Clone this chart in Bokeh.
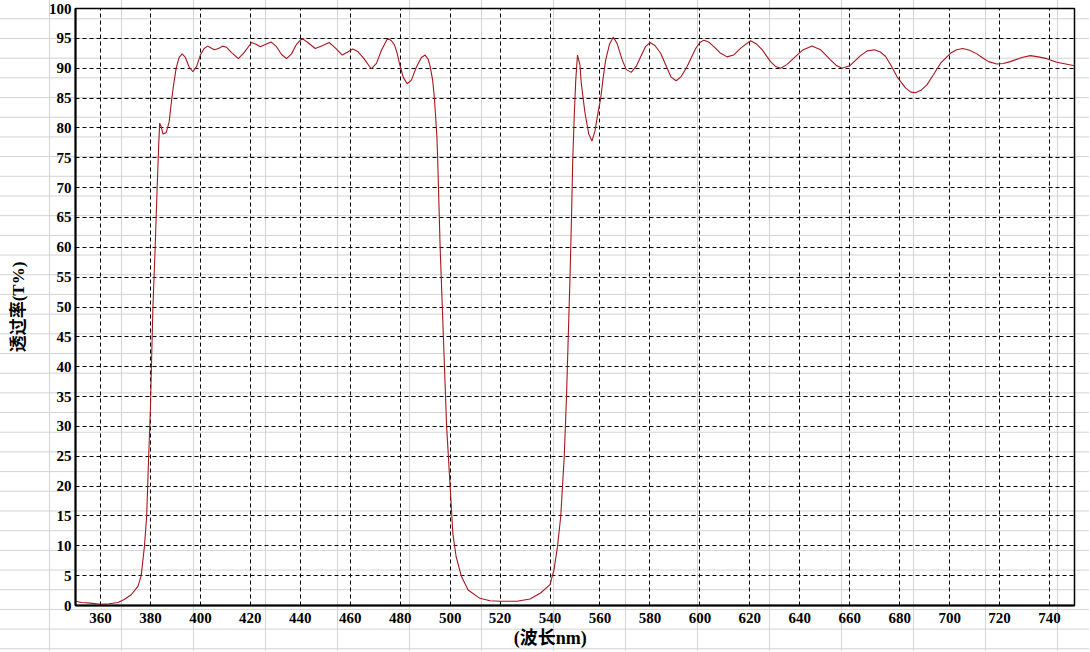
from bokeh.plotting import figure
from bokeh.models import Range1d, FixedTicker
from bokeh.embed import file_html
from bokeh.resources import INLINE

# wavelength (nm) and transmittance (%)
wavelength = [
    350.0, 352.5, 356.0, 360.0, 363.5, 367.0, 369.5, 372.3, 375.0, 376.3,
    377.6, 378.5, 379.3, 380.0, 380.4, 381.0, 381.9, 382.7, 383.3, 383.7,
    384.3, 385.0, 386.3, 387.5, 388.3, 389.2, 390.3, 391.5, 392.7, 394.0,
    395.5, 397.0, 398.5, 400.0, 401.5, 402.9, 404.3, 405.6, 407.3, 408.9,
    410.5, 412.5, 415.2, 417.5, 420.5, 422.3, 424.0, 426.2, 428.3, 430.5,
    432.5, 434.5, 436.5, 438.5, 440.7, 443.0, 446.0, 449.0, 451.6, 454.0,
    456.8, 459.0, 461.0, 463.0, 465.5, 468.4, 470.5, 472.5, 475.0, 476.5,
    477.7, 478.8, 479.7, 481.2, 482.8, 484.5, 486.5, 488.5, 490.0, 491.2,
    492.0, 493.0, 493.7, 494.7, 495.0, 496.0, 497.3, 498.6, 500.0, 501.1,
    502.4, 504.5, 507.2, 511.9, 516.0, 520.0, 526.8, 532.0, 536.2, 540.0,
    541.6, 543.0, 544.3, 545.7, 546.6, 547.3, 548.0, 548.6, 549.1, 549.7,
    550.3, 551.0, 552.0, 552.5, 554.0, 555.5, 556.8, 558.0, 559.0, 560.3,
    561.3, 562.3, 563.8, 565.3, 566.8, 568.9, 570.5, 572.5, 574.5, 576.3,
    578.2, 580.0, 582.0, 584.3, 586.9, 588.5, 590.5, 592.5, 594.9, 596.6,
    598.3, 600.0, 601.6, 603.5, 605.6, 608.0, 610.9, 613.5, 616.5, 620.3,
    622.5, 624.9, 628.3, 630.3, 632.3, 634.8, 637.6, 641.0, 644.9, 648.3,
    652.3, 654.5, 656.9, 660.0, 664.3, 667.0, 669.9, 672.3, 674.3, 676.5,
    678.9, 682.3, 684.5, 686.3, 688.5, 690.9, 693.5, 696.3, 700.3, 702.8,
    705.3, 708.0, 710.9, 713.0, 715.6, 718.9, 721.5, 724.3, 728.9, 732.3,
    735.5, 738.9, 742.9, 746.5, 750.0,
]
transmittance = [
    0.7, 0.5, 0.4, 0.2, 0.3, 0.5, 1.0, 1.8, 3.2, 5.0,
    9.9, 15.0, 25.0, 33.0, 40.0, 50.0, 60.0, 70.0, 77.0, 80.8,
    80.2, 79.0, 79.2, 81.0, 84.0, 87.0, 90.0, 91.8, 92.4, 91.8,
    90.2, 89.4, 90.3, 92.2, 93.3, 93.7, 93.4, 93.1, 93.3, 93.7,
    93.5, 92.6, 91.6, 92.6, 94.3, 94.0, 93.6, 94.0, 94.4, 93.6,
    92.3, 91.6, 92.4, 94.0, 95.0, 94.3, 93.3, 93.8, 94.3, 93.4,
    92.2, 92.7, 93.2, 92.8, 91.6, 89.9, 90.8, 93.0, 95.0, 94.6,
    93.9, 92.5, 90.8, 88.5, 87.4, 88.0, 90.2, 91.8, 92.2, 91.5,
    90.3, 88.0, 85.0, 78.6, 75.0, 60.0, 45.0, 30.0, 20.0, 12.0,
    8.2, 4.9, 2.6, 1.2, 0.8, 0.7, 0.7, 1.1, 2.1, 3.5,
    6.0, 9.9, 15.0, 25.0, 35.0, 45.0, 55.0, 65.0, 74.7, 82.0,
    88.0, 92.2, 90.5, 87.5, 82.5, 79.0, 77.8, 79.5, 82.0, 85.0,
    88.5, 91.4, 94.0, 95.2, 94.2, 91.4, 89.8, 89.3, 90.3, 91.9,
    93.6, 94.3, 93.8, 92.5, 90.0, 88.5, 87.9, 88.6, 90.3, 91.8,
    93.3, 94.3, 94.7, 94.4, 93.6, 92.6, 91.9, 92.2, 93.4, 94.6,
    94.1, 93.1, 91.1, 90.3, 90.0, 90.6, 91.7, 93.0, 93.7, 93.1,
    91.4, 90.5, 90.0, 90.4, 92.1, 92.9, 93.1, 92.7, 92.0, 90.5,
    88.6, 86.7, 86.0, 85.9, 86.3, 87.2, 88.9, 90.8, 92.5, 93.1,
    93.3, 93.0, 92.4, 91.8, 91.1, 90.7, 90.8, 91.1, 91.8, 92.1,
    91.9, 91.6, 91.0, 90.7, 90.4,
]
x_ticks = [360, 380, 400, 420, 440, 460, 480, 500, 520, 540, 560, 580, 600,
           620, 640, 660, 680, 700, 720, 740]
y_ticks = [0, 5, 10, 15, 20, 25, 30, 35, 40, 45, 50, 55, 60, 65, 70, 75, 80,
           85, 90, 95, 100]
x_label = "(波长nm)"
y_label = "透过率(T%)"

p = figure(
    frame_width=999, frame_height=597,
    x_range=Range1d(350, 750), y_range=Range1d(0, 100),
    output_backend="svg", toolbar_location=None,
    min_border_left=75, min_border_right=15, min_border_top=8, min_border_bottom=46,
    background_fill_color=None, border_fill_color=None,
)
p.styles = {
    "background-image": "linear-gradient(to right, #d2d2d2 1px, transparent 1px), "
                        "linear-gradient(to bottom, #d2d2d2 1px, transparent 1px)",
    "background-size": "72px 19.69px",
    "background-position": "49px 18.3px",
}
p.outline_line_color = "black"
p.outline_line_width = 1.5

p.line(wavelength, transmittance, line_color="#a8161f", line_width=1.1)

serif = "Liberation Serif, Noto Sans CJK SC"
for ax in (p.xaxis, p.yaxis):
    ax.major_tick_out = 0
    ax.major_tick_in = 0
    ax.minor_tick_out = 0
    ax.minor_tick_in = 0
    ax.axis_line_color = "black"
    ax.axis_line_width = 2
    ax.major_label_text_font = serif
    ax.major_label_text_font_style = "bold"
    ax.major_label_text_font_size = "15px"
    ax.major_label_text_color = "black"
    ax.axis_label_text_font = serif
    ax.axis_label_text_font_style = "bold"
    ax.axis_label_text_font_size = "17px"
    ax.axis_label_text_color = "black"

p.xaxis.ticker = FixedTicker(ticks=x_ticks)
p.yaxis.ticker = FixedTicker(ticks=y_ticks)
# trailing no-break spaces move the x title left of centre, as in the reference
p.xaxis.axis_label = x_label + "\u00a0" * 11
p.xaxis.axis_label_text_font_size = "18px"
p.yaxis.axis_label = y_label
p.xaxis.major_label_standoff = 7
p.xaxis.axis_label_standoff = 2
p.yaxis.major_label_standoff = 4
p.yaxis.axis_label_standoff = 18

p.xgrid.ticker = FixedTicker(ticks=x_ticks)
p.ygrid.ticker = FixedTicker(ticks=y_ticks[1:-1])
for g in (p.xgrid, p.ygrid):
    g.grid_line_color = "black"
    g.grid_line_dash = "4 3"
    g.grid_line_width = 1

open("out.html", "w").write(file_html(p, INLINE))
